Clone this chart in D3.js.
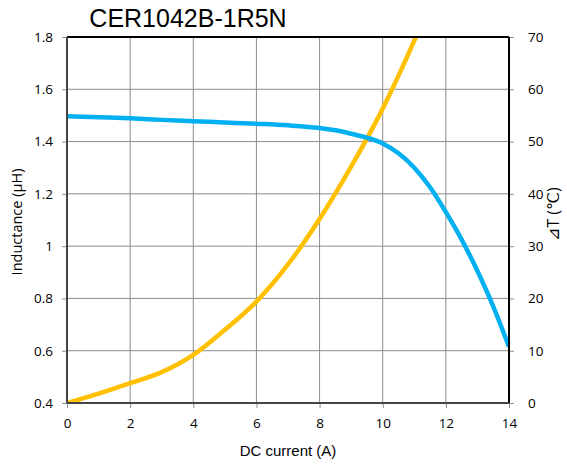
<!DOCTYPE html>
<html>
<head>
<meta charset="utf-8">
<script src="https://cdn.jsdelivr.net/npm/d3@7"></script>
<style>
  body { margin: 0; background: #fff; }
  svg text { fill: #000; }
</style>
</head>
<body>
<svg id="chart" width="567" height="465"></svg>
<script>
// data
const currentTicks = [0, 2, 4, 6, 8, 10, 12, 14];
const inductanceTicks = [0.4, 0.6, 0.8, 1.0, 1.2, 1.4, 1.6, 1.8];
const tempTicks = [0, 10, 20, 30, 40, 50, 60, 70];

const indCurrent = [0, 1, 2, 3, 4, 5, 6, 7, 8, 8.5, 9, 9.5, 10, 10.5, 11, 11.5, 12, 12.5, 13, 13.5, 14];
const indValue = [1.497, 1.493, 1.489, 1.483, 1.478, 1.473, 1.468, 1.462, 1.452, 1.443, 1.43, 1.415, 1.393, 1.355, 1.30, 1.225, 1.13, 1.025, 0.905, 0.77, 0.615];

const tempCurrent = [0, 1, 2, 3, 4, 5, 6, 7, 8, 9, 10, 11, 11.3];
const tempValue = [0, 1.8, 3.8, 5.9, 9.2, 14, 19.4, 26.5, 35.2, 45.2, 56.3, 69.3, 73.5];

const svg = d3.select('#chart');
const m = { left: 67, right: 509, top: 37, bottom: 403 };

const x = d3.scaleLinear().domain([0, 14]).range([m.left, m.right]);
const yL = d3.scaleLinear().domain([0.4, 1.8]).range([m.bottom, m.top]);
const yR = d3.scaleLinear().domain([0, 70]).range([m.bottom, m.top]);

const tickFont = '"Open Sans", sans-serif';

// grid
svg.append('g').selectAll('line.v')
    .data(currentTicks.slice(1, -1))
    .enter().append('line')
    .attr('x1', d => x(d)).attr('x2', d => x(d))
    .attr('y1', m.top).attr('y2', m.bottom)
    .attr('stroke', '#8c8c8c').attr('stroke-width', 1);
svg.append('g').selectAll('line.h')
    .data(inductanceTicks.slice(1, -1))
    .enter().append('line')
    .attr('x1', m.left).attr('x2', m.right)
    .attr('y1', d => yL(d)).attr('y2', d => yL(d))
    .attr('stroke', '#8c8c8c').attr('stroke-width', 1);

// axes
const xAxis = svg.append('g')
    .attr('transform', 'translate(0,' + m.bottom + ')')
    .call(d3.axisBottom(x).tickValues(currentTicks).tickSize(5).tickPadding(10).tickFormat(d3.format('d')));
const leftAxis = svg.append('g')
    .attr('transform', 'translate(' + m.left + ',0)')
    .call(d3.axisLeft(yL).tickValues(inductanceTicks).tickSize(5).tickPadding(9)
        .tickFormat(d => d === 1 ? '1' : d3.format('.1f')(d)));
const rightAxis = svg.append('g')
    .attr('transform', 'translate(' + m.right + ',0)')
    .call(d3.axisRight(yR).tickValues(tempTicks).tickSize(5).tickPadding(14));

[xAxis, leftAxis, rightAxis].forEach(a => {
    a.select('.domain').remove();
    a.selectAll('.tick line').attr('stroke', '#8c8c8c');
    a.selectAll('.tick text').style('font-family', tickFont).style('font-size', '13.5px').attr('fill', '#000');
});

// curves, clipped to plot box
svg.append('clipPath').attr('id', 'clip')
    .append('rect').attr('x', m.left).attr('y', m.top)
    .attr('width', m.right - m.left).attr('height', m.bottom - m.top);

const indLine = d3.line().curve(d3.curveMonotoneX)
    .x((d, i) => x(indCurrent[i])).y(d => yL(d));
const tempLine = d3.line().curve(d3.curveMonotoneX)
    .x((d, i) => x(tempCurrent[i])).y(d => yR(d));

svg.append('path').datum(tempValue)
    .attr('clip-path', 'url(#clip)')
    .attr('d', tempLine).attr('fill', 'none')
    .attr('stroke', '#FFC000').attr('stroke-width', 4.5);
svg.append('path').datum(indValue)
    .attr('clip-path', 'url(#clip)')
    .attr('d', indLine).attr('fill', 'none')
    .attr('stroke', '#00B0F0').attr('stroke-width', 4.5);

// frame
svg.append('line').attr('x1', m.left).attr('x2', m.right).attr('y1', m.top).attr('y2', m.top)
    .attr('stroke', '#000').attr('stroke-width', 2);
svg.append('line').attr('x1', m.right).attr('x2', m.right).attr('y1', m.top).attr('y2', m.bottom)
    .attr('stroke', '#000').attr('stroke-width', 2);
svg.append('line').attr('x1', m.left).attr('x2', m.right).attr('y1', m.bottom).attr('y2', m.bottom)
    .attr('stroke', '#444').attr('stroke-width', 2);
svg.append('line').attr('x1', m.left).attr('x2', m.left).attr('y1', m.top).attr('y2', m.bottom)
    .attr('stroke', '#444').attr('stroke-width', 2);

// titles
svg.append('text').attr('x', 188).attr('y', 27)
    .attr('text-anchor', 'middle')
    .style('font-family', '"Liberation Sans", Arial, sans-serif').style('font-size', '25px')
    .text('CER1042B-1R5N');
svg.append('text').attr('x', 288).attr('y', 456)
    .attr('text-anchor', 'middle')
    .style('font-family', '"Liberation Sans", Arial, sans-serif').style('font-size', '15px')
    .text('DC current (A)');
svg.append('text')
    .attr('transform', 'translate(22,222) rotate(-90)')
    .attr('text-anchor', 'middle')
    .style('font-family', tickFont).style('font-size', '14.5px')
    .text('Inductance (μH)');
svg.append('text')
    .attr('transform', 'translate(559,214) rotate(-90)')
    .attr('text-anchor', 'middle')
    .style('font-family', tickFont).style('font-size', '16px')
    .text('⊿T (℃)');
</script>
</body>
</html>
